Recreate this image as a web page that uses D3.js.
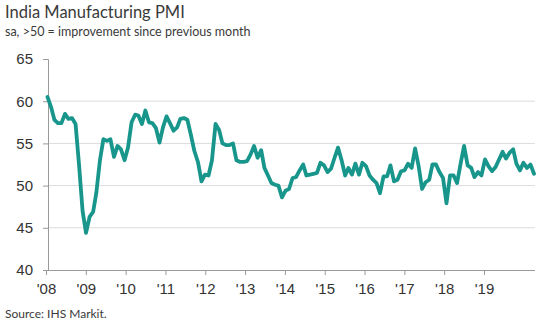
<!DOCTYPE html>
<html>
<head>
<meta charset="utf-8">
<script src="https://cdn.jsdelivr.net/npm/d3@7"></script>
<style>
  body { margin: 0; background: #fff; }
  .grid line { stroke: #dcdcdc; }
  .axis text { font-family: "Liberation Sans", Arial, sans-serif; font-size: 15px; fill: #333; }
</style>
</head>
<body>
<div id="chart"></div>
<script>
// monthly PMI, Jan 2008 - Aug 2019
var startMonth = new Date(2008, 0, 1);
var pmi = [
  60.5, 59.3, 57.8, 57.4, 57.4, 58.5, 57.9, 58.0, 57.3, 52.5, 47.0, 44.4,
  46.3, 46.9, 49.2, 53.0, 55.5, 55.3, 55.5, 53.4, 54.7, 54.3, 53.0, 54.5,
  57.5, 58.4, 58.3, 57.3, 58.9, 57.5, 57.4, 56.8, 55.1, 56.9, 58.2, 57.4,
  56.5, 56.9, 57.9, 58.0, 57.8, 56.0, 54.1, 52.8, 50.5, 51.3, 51.2, 53.0,
  57.3, 56.6, 55.0, 54.8, 54.8, 55.0, 53.0, 52.8, 52.8, 52.9, 53.7, 54.7,
  53.3, 54.2, 52.1, 51.2, 50.3, 50.1, 50.0, 48.6, 49.4, 49.6, 50.9, 51.0,
  51.8, 52.5, 51.2, 51.3, 51.4, 51.5, 52.7, 52.4, 51.6, 52.0, 53.3, 54.5,
  53.0, 51.2, 52.1, 51.3, 52.6, 51.3, 52.7, 52.3, 51.2, 50.7, 50.3, 49.1,
  51.1, 51.1, 52.4, 50.5, 50.7, 51.7, 51.8, 52.6, 52.1, 54.4, 52.3, 49.6,
  50.4, 50.7, 52.5, 52.5, 51.6, 50.9, 47.9, 51.2, 51.2, 50.3, 52.6, 54.7,
  52.4, 52.1, 51.0, 51.6, 51.2, 53.1, 52.3, 51.7, 52.2, 53.1, 54.0, 53.2,
  53.9, 54.3, 52.6, 51.8, 52.7, 52.1, 52.5, 51.4
];
var yearLabels = ["'08", "'09", "'10", "'11", "'12", "'13", "'14", "'15", "'16", "'17", "'18", "'19"];
var yTicks = [40, 45, 50, 55, 60, 65];
var gridValues = [45, 50, 55, 60];

var width = 550, height = 333;

var data = pmi.map(function (v, i) {
    return { date: d3.timeMonth.offset(startMonth, i), value: v };
});

var x = d3.scaleTime()
    .domain(d3.extent(data, function (d) { return d.date; }))
    .range([47.5, 534]);
var y = d3.scaleLinear()
    .domain([40, 65])
    .range([270, 59]);
var xYears = d3.scalePoint()
    .domain(yearLabels)
    .range([46, 484]);

var svg = d3.select("#chart").append("svg")
    .attr("width", width)
    .attr("height", height);

// titles
svg.append("text")
    .attr("x", 5)
    .attr("y", 18)
    .attr("font-family", "Lato, sans-serif")
    .attr("font-size", "16.5px")
    .style("fill", "#3a3a3a")
    .text("India Manufacturing PMI");
svg.append("text")
    .attr("x", 5)
    .attr("y", 36)
    .attr("font-family", "Lato, sans-serif")
    .attr("font-size", "12.5px")
    .style("fill", "#3a3a3a")
    .text("sa, >50 = improvement since previous month");

// horizontal grid
svg.append("g")
    .attr("class", "grid")
    .selectAll("line")
    .data(gridValues)
    .enter().append("line")
    .attr("x1", 48)
    .attr("x2", 535)
    .attr("y1", function (d) { return y(d); })
    .attr("y2", function (d) { return y(d); });

// y axis
var yAxis = svg.append("g")
    .attr("class", "axis")
    .attr("transform", "translate(48,0)")
    .call(d3.axisLeft(y).tickValues(yTicks).tickSize(5).tickPadding(10));
yAxis.select(".domain").attr("stroke", "#9a9a9a");
yAxis.selectAll(".tick line").attr("stroke", "#9a9a9a");

// x axis
var xAxis = svg.append("g")
    .attr("class", "axis")
    .attr("transform", "translate(0,270)")
    .call(d3.axisBottom(xYears).tickSize(5).tickPadding(8).tickSizeOuter(0));
xAxis.select(".domain").attr("d", "M48,0.5H535").attr("stroke", "#9a9a9a");
xAxis.selectAll(".tick line").attr("stroke", "#9a9a9a");

// PMI line
var line = d3.line()
    .x(function (d) { return x(d.date); })
    .y(function (d) { return y(d.value); });

svg.append("path")
    .datum(data)
    .attr("fill", "none")
    .attr("stroke", "#18968c")
    .attr("stroke-width", 3.8)
    .attr("stroke-linejoin", "round")
    .attr("stroke-linecap", "round")
    .attr("d", line);

svg.append("text")
    .attr("x", 5)
    .attr("y", 318)
    .attr("font-family", "Lato, sans-serif")
    .attr("font-size", "12px")
    .style("fill", "#3a3a3a")
    .text("Source: IHS Markit.");
</script>
</body>
</html>
